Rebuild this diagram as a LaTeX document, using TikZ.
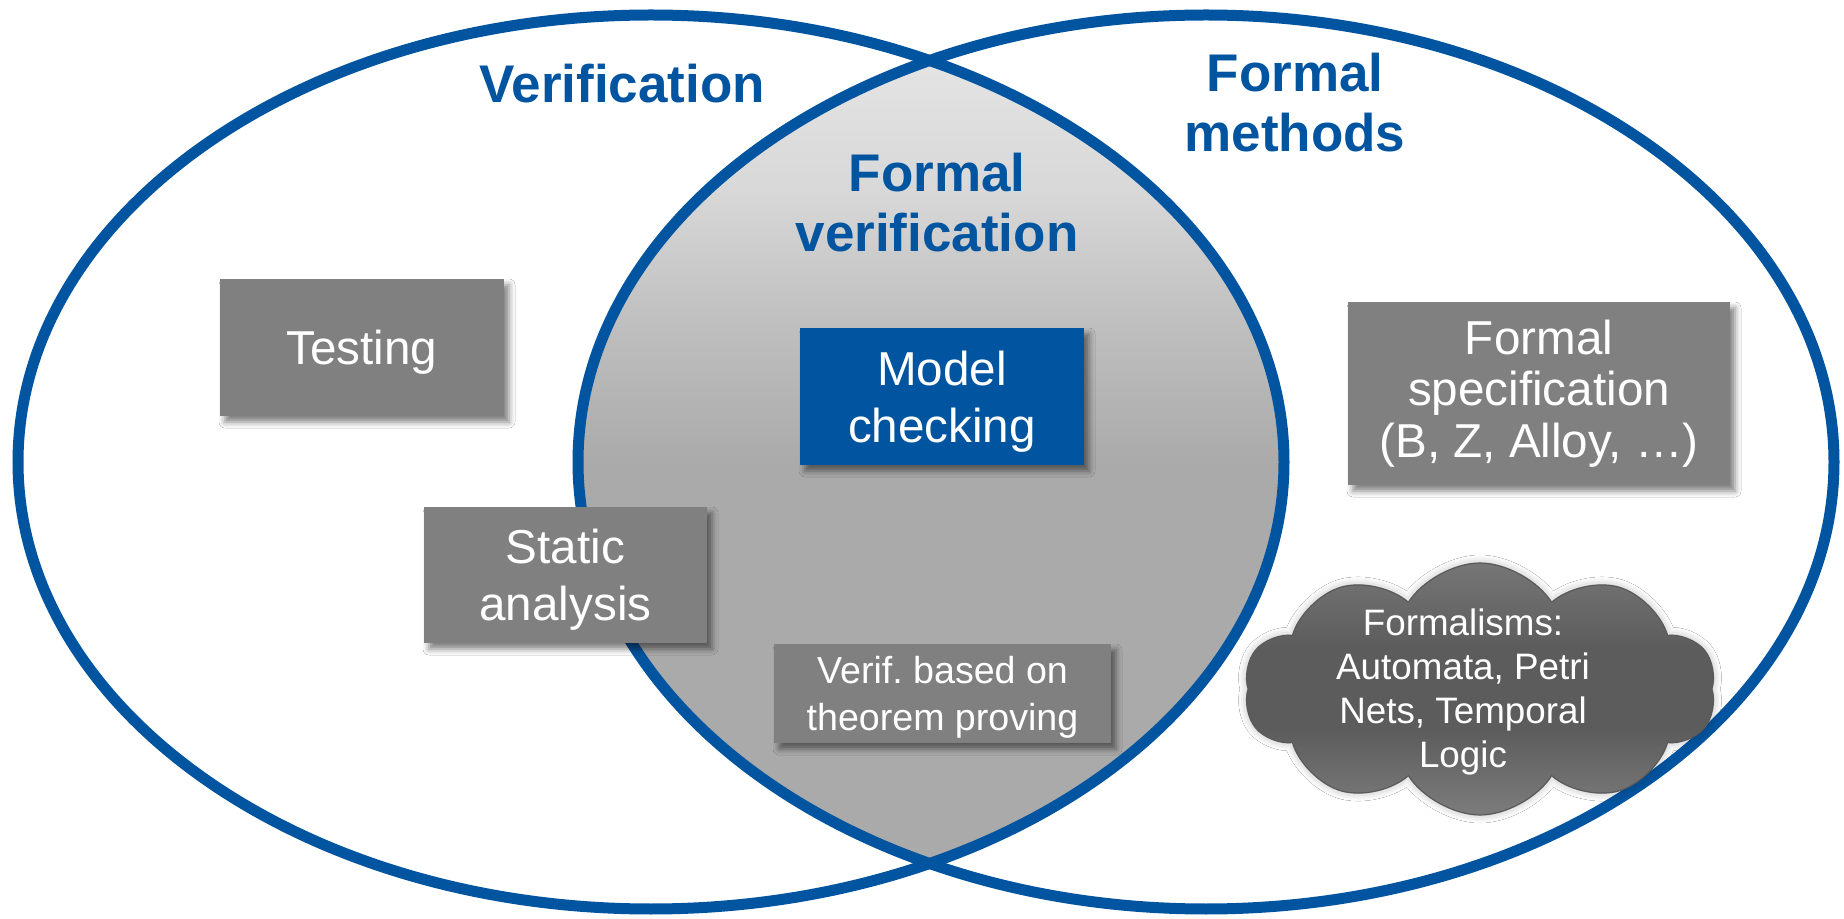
\documentclass[tikz,border=0pt]{standalone}
\usepackage{fontspec}
\setmainfont{Liberation Sans}
\usetikzlibrary{shapes.symbols,shadows.blur}

\definecolor{venblue}{RGB}{0,84,160}
\definecolor{boxgray}{RGB}{128,128,128}
\definecolor{boxblue}{RGB}{0,84,160}
\definecolor{lensA}{RGB}{232,232,232}
\definecolor{lensB}{RGB}{216,216,216}
\definecolor{lensC}{RGB}{190,190,190}
\definecolor{lensD}{RGB}{170,170,170}
\definecolor{cloudtop}{RGB}{118,118,118}
\definecolor{cloudmid}{RGB}{92,92,92}
\definecolor{cloudbot}{RGB}{124,124,124}
\definecolor{cloudline}{RGB}{90,90,90}

% light at the top of the common part, flat grey from the middle down
\pgfdeclareverticalshading{lensshade}{100bp}{%
  color(0bp)=(lensD); color(49.8bp)=(lensD); color(57.4bp)=(lensC);
  color(65.2bp)=(lensB); color(75bp)=(lensA); color(100bp)=(lensA)}

% cloud body: lighter rim at top and bottom, darker in the middle
\pgfdeclareverticalshading{cloudshade}{100bp}{%
  color(0bp)=(cloudbot); color(25bp)=(cloudbot); color(42bp)=(cloudmid);
  color(58bp)=(cloudmid); color(75bp)=(cloudtop); color(100bp)=(cloudtop)}

\tikzset{
  settitle/.style={text=venblue, inner sep=0pt, align=center,
    font=\bfseries\fontsize{26.5}{30}\selectfont},
  boxshadow/.style={blur shadow={shadow xshift=2.5pt, shadow yshift=-3pt,
    shadow blur radius=3pt, shadow opacity=50}},
  topicbox/.style={fill=boxgray, text=white, inner sep=0pt, align=center,
    font=\fontsize{23.8}{28.5}\selectfont, text depth=0pt, boxshadow},
  smallbox/.style={topicbox, font=\fontsize{18.8}{23.5}\selectfont},
  ring/.style={draw=venblue, line width=5.5pt},
}

\begin{document}
\begin{tikzpicture}[x=0.5pt, y=-0.5pt]
\useasboundingbox (0,0) rectangle (1844,919);
\fill[white] (0,0) rectangle (1844,919);

% centres of the two sets
\coordinate (verc) at (651,462);
\coordinate (fmc) at (1206,462);

% shaded intersection of the two sets
\begin{scope}
  \clip (verc) ellipse [x radius=633, y radius=447];
  \shade[shading=lensshade] (fmc) ellipse [x radius=628, y radius=447];
\end{scope}

% outlines of the two sets
\draw[ring] (verc) ellipse [x radius=633, y radius=447];
\draw[ring] (fmc) ellipse [x radius=628, y radius=447];

% set titles
\node[settitle, anchor=base] (vertitle) at (622,103) {Verification};
\node[settitle] (fmtitle) at (1295,103) {Formal\\methods};
\node[settitle] (fvtitle) at (937,203) {Formal\\verification};

% techniques
\node[topicbox, minimum width=142pt, minimum height=68.5pt] (testing)
  at (362,347.5) {Testing};
\node[topicbox, fill=boxblue, minimum width=142pt, minimum height=68.5pt] (modelcheck)
  at (942,396.5) {Model\\checking};
\node[topicbox, font=\fontsize{23.8}{25.75}\selectfont, text depth=,
  minimum width=191pt, minimum height=91.5pt] (formalspec)
  at (1539,393.5) {Formal\\specification\\(B, Z, Alloy, …)};
\node[topicbox, minimum width=141.5pt, minimum height=68pt] (static)
  at (565.5,575) {Static\\analysis};
\node[smallbox, minimum width=168.5pt, minimum height=49.5pt] (theorem)
  at (942.5,693.5) {Verif.\ based on\\theorem proving};

% cloud of formalisms
\node[cloud, cloud puffs=10, cloud puff arc=115, aspect=1.7,
  minimum width=236pt, minimum height=126pt, inner sep=0pt,
  draw=cloudline, line width=0.6pt, shading=cloudshade,
  blur shadow={shadow xshift=0pt, shadow yshift=0pt,
    shadow blur radius=4pt, shadow opacity=30}] (cloud) at (1480,689) {};
\node[text=white, align=center, inner sep=0pt,
  font=\fontsize{18.4}{22}\selectfont] (formalisms) at (1463,692)
  {Formalisms:\\Automata, Petri\\Nets, Temporal\\Logic};
\end{tikzpicture}
\end{document}
